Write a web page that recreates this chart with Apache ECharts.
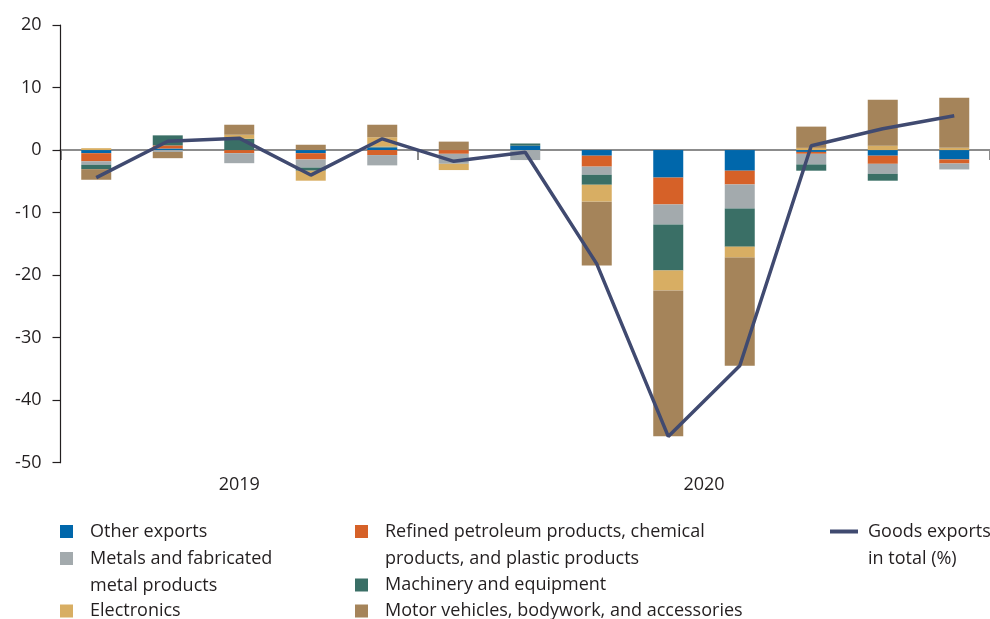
<!DOCTYPE html>
<html>
<head>
<meta charset="utf-8">
<script src="https://cdn.jsdelivr.net/npm/echarts@6/dist/echarts.min.js"></script>
<style>
  html, body { margin: 0; padding: 0; background: #ffffff; }
  #chart { width: 990px; height: 619px; }
</style>
</head>
<body>
<div id="chart"></div>
<script>
// Monthly contributions to the change in goods exports (percentage points)
const months = ['2019-08', '2019-09', '2019-10', '2019-11', '2019-12',
  '2020-01', '2020-02', '2020-03', '2020-04', '2020-05', '2020-06', '2020-07', '2020-08'];

const otherExports = [-0.5, 0.25, 0, -0.5, 0.4, 0, 0.7, -0.9, -4.4, -3.3, -0.3, -0.9, -1.5];
const refinedPetroleum = [-1.3, 0.5, -0.5, -1.0, -0.8, -0.6, 0, -1.75, -4.3, -2.2, -0.3, -1.3, -0.65];
const metals = [-0.55, -0.3, -1.6, -1.3, -1.65, -1.6, -1.6, -1.3, -3.2, -3.85, -1.7, -1.6, -0.95];
const machinery = [-0.7, 1.6, 1.8, -0.5, 0.15, 0, 0.35, -1.6, -7.35, -6.1, -1.0, -1.1, 0];
const electronics = [0.3, 0, 0.65, -1.6, 1.5, -1.0, 0, -2.7, -3.2, -1.75, 0.35, 0.7, 0.35];
const motorVehicles = [-1.7, -1.0, 1.6, 0.85, 2.0, 1.35, 0, -10.2, -23.3, -17.3, 3.4, 7.35, 8.0];
const goodsExportsTotal = [-4.4, 1.4, 1.9, -4.0, 1.8, -1.8, -0.35, -18.2, -45.8, -34.5, 0.7, 3.4, 5.5];

// Year labels placed under the middle of each year's months
const yearLabels = ['2019', '2020'];
const yearCenters = [2, 8.5];
const yearBoundaryIndex = 5;

const yTicks = { min: -50, max: 20, step: 10 };

const names = {
  other: 'Other exports',
  refined: 'Refined petroleum products, chemical products, and plastic products',
  metals: 'Metals and fabricated metal products',
  machinery: 'Machinery and equipment',
  electronics: 'Electronics',
  motor: 'Motor vehicles, bodywork, and accessories',
  total: 'Goods exports in total (%)'
};

// Wrapped legend lines; the leading break keeps the icon on the first line
const wrapped = {};
wrapped[names.other] = 'Other exports';
wrapped[names.refined] = '\nRefined petroleum products, chemical\nproducts, and plastic products';
wrapped[names.metals] = '\nMetals and fabricated\nmetal products';
wrapped[names.machinery] = 'Machinery and equipment';
wrapped[names.electronics] = 'Electronics';
wrapped[names.motor] = 'Motor vehicles, bodywork, and accessories';
wrapped[names.total] = '\nGoods exports\nin total (%)';

const colors = {
  other: '#0067ab',
  refined: '#d66128',
  metals: '#a3aaad',
  machinery: '#3a6f66',
  electronics: '#d8ae63',
  motor: '#a5845a',
  total: '#404a70'
};

const FONT = 'Open Sans';
const TEXT_COLOR = '#231f20';
const LINE_H = 27;

// One legend block per entry so every entry sits in its own column / row
function legendEntry(name, left, iconCenterY, isLine) {
  const multi = wrapped[name].indexOf('\n') >= 0;
  return {
    show: true,
    data: [{ name: name, icon: 'rect' }],
    left: left,
    top: iconCenterY - (multi ? LINE_H * 1.5 : LINE_H / 2),
    orient: 'vertical',
    padding: 0,
    itemWidth: isLine ? 28 : 13,
    itemHeight: isLine ? 4 : 13,
    selectedMode: false,
    formatter: function (n) { return wrapped[n]; },
    textStyle: {
      fontFamily: FONT,
      fontSize: 18,
      color: TEXT_COLOR,
      lineHeight: LINE_H,
      padding: [0, 0, 0, isLine ? 5 : 12]
    }
  };
}

function barSeries(key, values) {
  return {
    name: names[key],
    type: 'bar',
    stack: 'contrib',
    xAxisIndex: 0,
    barWidth: 30,
    data: values,
    itemStyle: { color: colors[key] },
    emphasis: { disabled: true }
  };
}

const chart = echarts.init(document.getElementById('chart'), null, { renderer: 'canvas' });

chart.setOption({
  animation: false,
  backgroundColor: '#ffffff',
  textStyle: { fontFamily: FONT },
  grid: { left: 60.5, top: 25, right: -5.5, bottom: 156.3, containLabel: false },
  legend: [
    legendEntry(names.other, 60, 531.5, false),
    legendEntry(names.metals, 60, 558.5, false),
    legendEntry(names.electronics, 60, 611, false),
    legendEntry(names.refined, 355, 531.5, false),
    legendEntry(names.machinery, 355, 585, false),
    legendEntry(names.motor, 355, 611, false),
    legendEntry(names.total, 830, 531.5, true)
  ],
  xAxis: [
    {
      type: 'category',
      data: months,
      position: 'bottom',
      boundaryGap: true,
      axisLine: { show: true, onZero: true, lineStyle: { color: '#8c8c8c', width: 2 } },
      axisTick: {
        show: true,
        length: 10,
        interval: function (index) { return index === 0 || index === yearBoundaryIndex; },
        lineStyle: { color: '#8c8c8c', width: 2 }
      },
      axisLabel: { show: false },
      splitLine: { show: false },
      z: 1
    },
    {
      type: 'value',
      position: 'bottom',
      min: -0.5,
      max: months.length - 0.5,
      axisLine: { show: false, onZero: false },
      axisTick: { show: false },
      splitLine: { show: false },
      axisLabel: {
        show: true,
        customValues: yearCenters,
        margin: 13,
        fontFamily: FONT,
        fontSize: 18,
        color: TEXT_COLOR,
        formatter: function (v) {
          const i = yearCenters.indexOf(v);
          return i >= 0 ? yearLabels[i] : '';
        }
      }
    }
  ],
  yAxis: {
    type: 'value',
    min: yTicks.min,
    max: yTicks.max,
    interval: yTicks.step,
    axisLine: { show: true, onZero: false, lineStyle: { color: TEXT_COLOR, width: 1.2 } },
    axisTick: { show: true, length: 8, lineStyle: { color: TEXT_COLOR, width: 1.2 } },
    axisLabel: { fontFamily: FONT, fontSize: 18, color: TEXT_COLOR, margin: 19 },
    splitLine: { show: false },
    z: 3
  },
  series: [
    barSeries('other', otherExports),
    barSeries('refined', refinedPetroleum),
    barSeries('metals', metals),
    barSeries('machinery', machinery),
    barSeries('electronics', electronics),
    barSeries('motor', motorVehicles),
    {
      name: names.total,
      type: 'line',
      xAxisIndex: 0,
      data: goodsExportsTotal,
      symbol: 'none',
      smooth: false,
      z: 10,
      lineStyle: { color: colors.total, width: 3.5 },
      itemStyle: { color: colors.total },
      emphasis: { disabled: true }
    }
  ]
});
</script>
</body>
</html>
